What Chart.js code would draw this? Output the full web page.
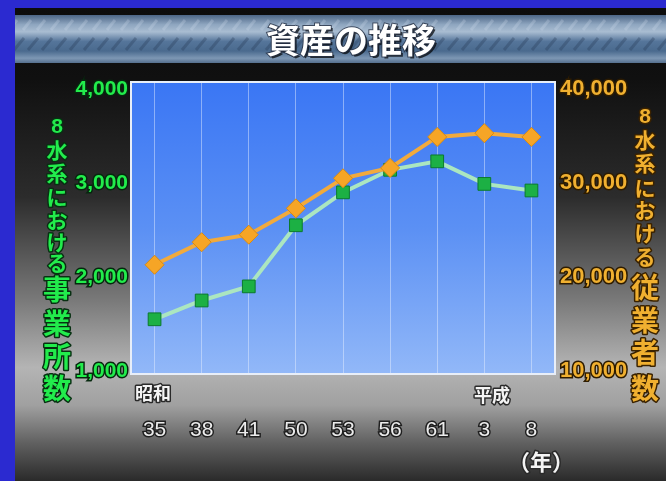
<!DOCTYPE html>
<html><head><meta charset="utf-8">
<script src="https://cdn.jsdelivr.net/npm/chart.js@4/dist/chart.umd.min.js"></script>
<style>html,body{margin:0;padding:0;background:#2b2ad0;}canvas{display:block;}</style>
</head><body>
<canvas id="c" width="666" height="481"></canvas>
<script>
// ---- data ----
const years = ['35','38','41','50','53','56','61','3','8'];
const offices = [1550,1750,1900,2550,2900,3140,3230,2990,2920];      // 8水系における事業所数 (left axis)
const workers = [21300,23700,24500,27300,30500,31600,34900,35300,34900]; // 8水系における従業者数 (right axis)
const leftTicks = [1000,2000,3000,4000];
const rightTicks = [10000,20000,30000,40000];
const titleText = '資産の推移';
const leftTitle = ['8','水','系','に','お','け','る','事','業','所','数'];
const rightTitle = ['8','水','系','に','お','け','る','従','業','者','数'];
const eraShowa = '昭和', eraHeisei = '平成', yearUnit = '（年）';

const LAT = '"Liberation Sans",Arial,sans-serif';
const CJK = '"Noto Sans CJK JP","Noto Sans CJK SC",sans-serif';

function fmt(v){ return String(v).replace(/\B(?=(\d{3})+(?!\d))/g, ','); }

function outlined(ctx, text, x, y, font, fill, stroke, sw){
  ctx.save();
  ctx.font = font; ctx.textAlign='center'; ctx.textBaseline='middle';
  ctx.lineJoin='round';
  ctx.strokeStyle = stroke; ctx.lineWidth = sw;
  ctx.strokeText(text, x, y);
  ctx.fillStyle = fill; ctx.fillText(text, x, y);
  ctx.restore();
}

const bgPlugin = {
  id:'bg',
  beforeDraw(chart){
    const ctx = chart.ctx, W = chart.width, H = chart.height, a = chart.chartArea;
    ctx.save();
    ctx.fillStyle = '#2b2ad0'; ctx.fillRect(0,0,W,H);
    // dark panel
    let g = ctx.createLinearGradient(0,8,0,H);
    g.addColorStop(0,'#0c0c0c');
    g.addColorStop(0.15,'#101010');
    g.addColorStop(0.40,'#2c2c2c');
    g.addColorStop(0.62,'#7a7a7a');
    g.addColorStop(0.76,'#b4b4b4');
    g.addColorStop(0.84,'#a0a0a0');
    g.addColorStop(0.92,'#606060');
    g.addColorStop(1,'#2a2a2a');
    ctx.fillStyle = g; ctx.fillRect(15,8,W-15,H-8);
    // banner
    let bg = ctx.createLinearGradient(0,15,0,63);
    bg.addColorStop(0,'#4c6686');
    bg.addColorStop(0.2,'#8fa6c0');
    bg.addColorStop(0.35,'#a9bdd2');
    bg.addColorStop(0.55,'#55759a');
    bg.addColorStop(0.75,'#4a6a8e');
    bg.addColorStop(0.9,'#7d97b4');
    bg.addColorStop(1,'#56708e');
    ctx.fillStyle = bg; ctx.fillRect(15,15,W-15,48);
    // texture streaks
    ctx.beginPath(); ctx.rect(15,15,W-15,48); ctx.clip();
    ctx.strokeStyle='rgba(40,60,90,0.35)'; ctx.lineWidth=3;
    for(let x=10;x<W+40;x+=14){
      ctx.beginPath(); ctx.moveTo(x,38); ctx.lineTo(x-10,50); ctx.stroke();
    }
    ctx.strokeStyle='rgba(210,225,240,0.25)'; ctx.lineWidth=3;
    for(let x=17;x<W+40;x+=14){
      ctx.beginPath(); ctx.moveTo(x,20); ctx.lineTo(x-8,30); ctx.stroke();
    }
    ctx.restore();
    // plot background
    ctx.save();
    let pg = ctx.createLinearGradient(0,a.top,0,a.bottom);
    pg.addColorStop(0,'#3a76f4');
    pg.addColorStop(0.5,'#5b90f4');
    pg.addColorStop(1,'#92b8f8');
    ctx.fillStyle = pg; ctx.fillRect(a.left,a.top,a.right-a.left,a.bottom-a.top);
    ctx.restore();
  },
  beforeDatasetsDraw(chart){
    const ctx = chart.ctx, a = chart.chartArea;
    ctx.save();
    ctx.strokeStyle='#e8eef8'; ctx.lineWidth=2;
    ctx.strokeRect(a.left,a.top,a.right-a.left,a.bottom-a.top);
    ctx.restore();
  },
  afterDraw(chart){
    const ctx = chart.ctx;
    // title
    ctx.save();
    ctx.font = 'bold 34px '+CJK; ctx.textAlign='center'; ctx.textBaseline='middle';
    ctx.fillStyle='rgba(0,0,0,0.7)'; ctx.fillText(titleText, 353, 42);
    ctx.lineWidth=2; ctx.strokeStyle='rgba(40,50,70,0.8)'; ctx.strokeText(titleText,351,40);
    ctx.fillStyle='#ffffff'; ctx.fillText(titleText, 351, 40);
    ctx.restore();
    // vertical axis titles
    const ly = [127,150,173,197,220,242,263,289,323,356,388];
    const ry = [117,140,163,188,210,233,257,287,320,352,388];
    leftTitle.forEach((ch,i)=>{
      const big = i>=7;
      outlined(ctx, ch, 57, ly[i], 'bold '+(big?28:21)+'px '+(i===0?LAT:CJK), '#22ec4c', '#083012', 3);
    });
    rightTitle.forEach((ch,i)=>{
      const big = i>=7;
      outlined(ctx, ch, 645, ry[i], 'bold '+(big?28:21)+'px '+(i===0?LAT:CJK), '#f0b030', '#3a2200', 3);
    });
    // era labels
    outlined(ctx, eraShowa, 153, 393, 'bold 18px '+CJK, '#f4f4f4', '#2a2a2a', 3);
    outlined(ctx, eraHeisei, 492, 395, 'bold 18px '+CJK, '#f4f4f4', '#2a2a2a', 3);
    outlined(ctx, yearUnit, 541, 462, 'bold 22px '+CJK, '#f4f4f4', '#2a2a2a', 3);
  }
};

new Chart(document.getElementById('c'), {
  type:'line',
  data:{
    labels: years,
    datasets:[
      {
        label:'8水系における従業者数', data: workers, yAxisID:'y2', order:0,
        borderColor:'#f2aa3c', borderWidth:4,
        pointStyle:'rectRot', pointRadius:9.5, pointBackgroundColor:'#f6a526',
        pointBorderColor:'#d98a12', pointBorderWidth:1
      },
      {
        label:'8水系における事業所数', data: offices, yAxisID:'y', order:1,
        borderColor:'#abe6c0', borderWidth:4,
        pointStyle:'rect', pointRadius:9, pointBackgroundColor:'#1cb044',
        pointBorderColor:'#0b7a2c', pointBorderWidth:1
      }
    ]
  },
  options:{
    responsive:false, animation:false,
    layout:{padding:{top:82,left:0,right:0,bottom:0}},
    plugins:{legend:{display:false}, title:{display:false}, tooltip:{enabled:false}},
    scales:{
      x:{
        offset:true,
        grid:{display:true, offset:false, drawTicks:false, color:'rgba(235,242,255,0.45)', lineWidth:1},
        border:{display:false},
        ticks:{padding:44, color:'#ececec', font:{family:LAT, size:21}, textStrokeColor:'#202020', textStrokeWidth:3, maxRotation:0, autoSkip:false},
        afterFit(s){ s.height = 107; }
      },
      y:{
        position:'left', min:968, max:4074,
        grid:{display:false, drawTicks:false}, border:{display:false},
        afterBuildTicks(s){ s.ticks = leftTicks.map(v=>({value:v})); },
        ticks:{padding:3, color:'#22ec4c', font:{family:LAT, size:21, weight:'bold'}, textStrokeColor:'#06280e', textStrokeWidth:3, callback:v=>fmt(v)},
        afterFit(s){ s.width = 131; }
      },
      y2:{
        position:'right', min:9680, max:40740,
        grid:{display:false, drawTicks:false}, border:{display:false},
        afterBuildTicks(s){ s.ticks = rightTicks.map(v=>({value:v})); },
        ticks:{padding:5, color:'#f0b030', font:{family:LAT, size:22, weight:'bold'}, textStrokeColor:'#2e1c00', textStrokeWidth:3, callback:v=>fmt(v)},
        afterFit(s){ s.width = 111; }
      }
    }
  },
  plugins:[bgPlugin]
});
</script>
</body></html>
